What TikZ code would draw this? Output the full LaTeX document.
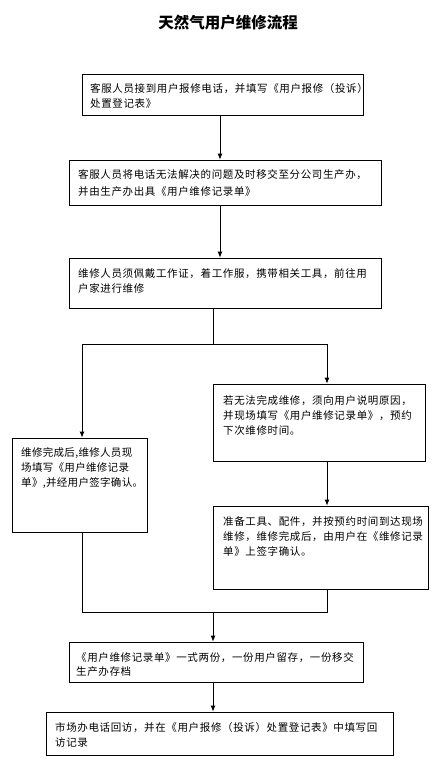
\documentclass[tikz,border=0pt]{standalone}
\usepackage{fontspec}
\newfontfamily\cjk[LetterSpace=6]{Noto Sans CJK SC}
\newfontfamily\cjkn[LetterSpace=3]{Noto Sans CJK SC}
\newfontfamily\cjkt{Noto Sans CJK SC}
\usetikzlibrary{arrows.meta}
\tikzset{
  box/.style={draw, line width=0.8pt, rectangle, inner sep=0pt},
  txt/.style={anchor=north west, inner sep=0pt, align=left, font=\cjk\fontsize{10.5}{15}\selectfont},
  arr/.style={line width=0.8pt, -{Latex[length=6pt,width=5pt]}},
  ln/.style={line width=0.8pt}
}
\begin{document}
\begin{tikzpicture}[x=1pt,y=-1pt]
\useasboundingbox (0,0) rectangle (443,771);
\node[font=\cjkt\bfseries\fontsize{15.5}{18}\selectfont, inner sep=0pt] (title) at (228,23) {天然气用户维修流程};

\node[box, minimum width=281, minimum height=41] (b1) at (222.5,94.5) {};
\node[box, minimum width=312, minimum height=45] (b2) at (225,182.5) {};
\node[box, minimum width=312, minimum height=50] (b3) at (225,283) {};
\node[box, minimum width=135, minimum height=94] (b4) at (79.5,485) {};
\node[box, minimum width=212, minimum height=77] (b5) at (319,422.5) {};
\node[box, minimum width=215, minimum height=83] (b6) at (320.5,547.5) {};
\node[box, minimum width=294, minimum height=40] (b7) at (216,662) {};
\node[box, minimum width=347, minimum height=43] (b8) at (219.5,733.5) {};

\node[txt] (t1) at (90,81.5) {\strut 客服人员接到用户报修电话，并填写《用户报修（投诉）\\处置登记表》};
\node[txt, font=\cjk\fontsize{10.5}{17}\selectfont] (t2) at (78,166.5) {\strut 客服人员将电话无法解决的问题及时移交至分公司生产办，\\并由生产办出具《用户维修记录单》};
\node[txt] (t3) at (78,266.5) {\strut 维修人员须佩戴工作证，着工作服，携带相关工具，前往用\\户家进行维修};
\node[txt, font=\cjkn\fontsize{10.5}{15}\selectfont] (t4) at (21,445.5) {\strut 维修完成后,维修人员现\\场填写《用户维修记录\\单》,并经用户签字确认。};
\node[txt] (t5) at (223,393.5) {\strut 若无法完成维修，须向用户说明原因，\\并现场填写《用户维修记录单》，预约\\下次维修时间。};
\node[txt] (t6) at (223,514.5) {\strut 准备工具、配件，并按预约时间到达现场\\维修，维修完成后，由用户在《维修记录\\单》上签字确认。};
\node[txt, font=\cjk\fontsize{10.5}{14}\selectfont] (t7) at (76,651.5) {\strut 《用户维修记录单》一式两份，一份用户留存，一份移交\\生产办存档};
\node[txt] (t8) at (55,720.5) {\strut 市场办电话回访，并在《用户报修（投诉）处置登记表》中填写回\\访记录};

\coordinate (a1) at (220,0);
\coordinate (j1) at (213,344);
\coordinate (jl) at (82,344);
\coordinate (jr) at (327,344);
\coordinate (ml) at (82,612);
\coordinate (mr) at (327,612);
\coordinate (mc) at (213,612);

\draw[arr] (b1.south -| a1) -- (b2.north -| a1);
\draw[arr] (b2.south -| a1) -- (b3.north -| a1);
\draw[ln] (b3.south -| j1) -- (j1);
\draw[ln] (jl) -- (jr);
\draw[arr] (jl) -- (jl |- b4.north);
\draw[arr] (jr) -- (jr |- b5.north);
\draw[arr] (b5.south -| jr) -- (b6.north -| jr);
\draw[ln] (b4.south -| ml) -- (ml) -- (mr) -- (b6.south -| mr);
\draw[arr] (mc) -- (mc |- b7.north);
\draw[arr] (b7.south -| mc) -- (b8.north -| mc);
\end{tikzpicture}
\end{document}
